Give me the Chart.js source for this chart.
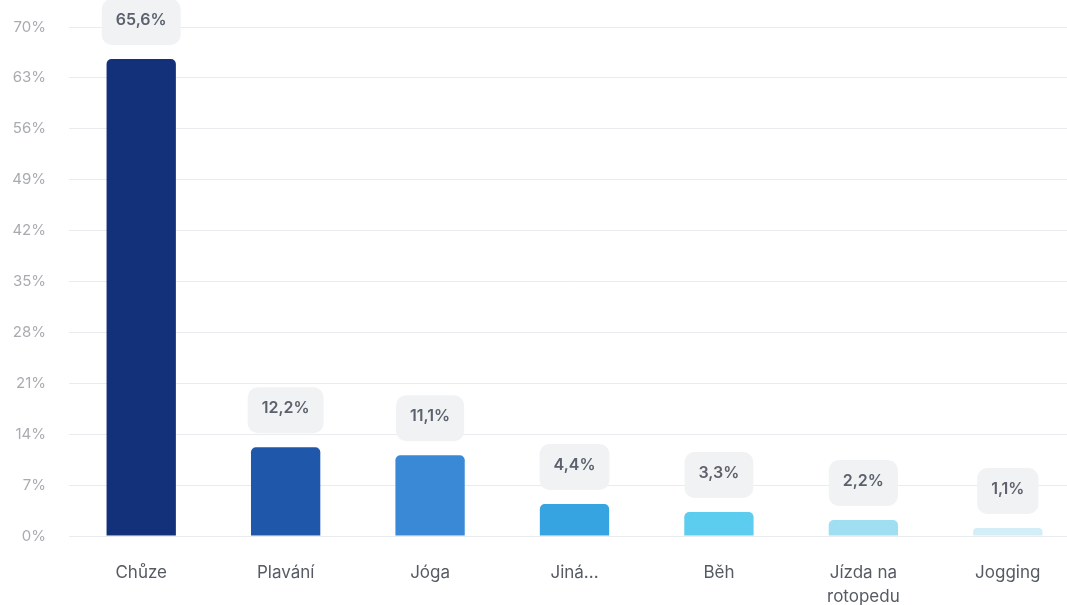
<!DOCTYPE html>
<html>
<head>
<meta charset="utf-8">
<script src="https://cdn.jsdelivr.net/npm/chart.js@4/dist/chart.umd.min.js"></script>
<style>
  html, body { margin: 0; padding: 0; background: #fff; overflow: hidden; }
  #wrap { width: 1067px; height: 605px; overflow: hidden; }
  #wrap canvas { display: block; }
</style>
</head>
<body>
<div id="wrap"><canvas id="chart" width="1080" height="605"></canvas></div>
<script>
"use strict"

// kategorie a hodnoty v procentech
const categories = ["Chůze", "Plavání", "Jóga", "Jiná...", "Běh", ["Jízda na", "rotopedu"], "Jogging"];
const shares = [65.6, 12.2, 11.1, 4.4, 3.3, 2.2, 1.1];
const barColors = ["#13307b", "#1f58ab", "#3a89d7", "#35a4e1", "#5ccdee", "#a0def2", "#d4eef8"];
const yMax = 70;
const yStep = 7;

let fmt = function(v){
    return v.toFixed(1).replace('.', ',') + '%';
}

// popisky hodnot v šedých rámečcích nad sloupci
const valueBoxes = {
    id: 'valueBoxes',
    afterDatasetsDraw(chart){
        const ctx = chart.ctx;
        const meta = chart.getDatasetMeta(0);
        ctx.save();
        ctx.font = '600 16px Inter, "Noto Sans", sans-serif';
        ctx.textAlign = 'center';
        ctx.textBaseline = 'middle';
        meta.data.forEach((bar, i) => {
            const text = fmt(shares[i]);
            const w = ctx.measureText(text).width + 28;
            const h = 46;
            const x = bar.x - w / 2;
            const y = bar.y - 14 - h;
            ctx.fillStyle = '#f1f2f4';
            ctx.beginPath();
            ctx.roundRect(x, y, w, h, 10);
            ctx.fill();
            ctx.fillStyle = '#5b616d';
            ctx.fillText(text, bar.x, y + h / 2 - 2);
        });
        ctx.restore();
    }
};

new Chart(document.getElementById("chart"), {
    type: 'bar',
    data: {
        labels: categories,
        datasets: [{
            data: shares,
            backgroundColor: barColors,
            borderRadius: { topLeft: 5, topRight: 5, bottomLeft: 0, bottomRight: 0 },
            borderSkipped: 'bottom',
            barPercentage: 0.8,
            categoryPercentage: 0.6
        }]
    },
    options: {
        responsive: false,
        animation: false,
        layout: { padding: { top: 27, right: 0, left: 0, bottom: 0 } },
        plugins: {
            legend: { display: false },
            tooltip: { enabled: false }
        },
        scales: {
            x: {
                grid: { display: false, drawTicks: false },
                border: { display: false },
                ticks: {
                    color: '#555a63',
                    font: { family: 'Inter, "Noto Sans", sans-serif', size: 17, lineHeight: 1.4 },
                    padding: 25,
                    maxRotation: 0,
                    autoSkip: false
                },
                afterFit(scale){ scale.height = 69; }
            },
            y: {
                min: 0,
                max: yMax,
                grid: { color: '#e9ebee', drawTicks: false },
                border: { display: false },
                ticks: {
                    stepSize: yStep,
                    color: '#a8abb0',
                    font: { family: 'Inter, "Noto Sans", sans-serif', size: 15 },
                    padding: 23,
                    callback: v => v + '%'
                },
                afterFit(scale){
                    scale.width = 69;
                    scale.paddingTop = 0;
                    scale.paddingBottom = 0;
                }
            }
        }
    },
    plugins: [valueBoxes]
});
</script>
</body>
</html>
